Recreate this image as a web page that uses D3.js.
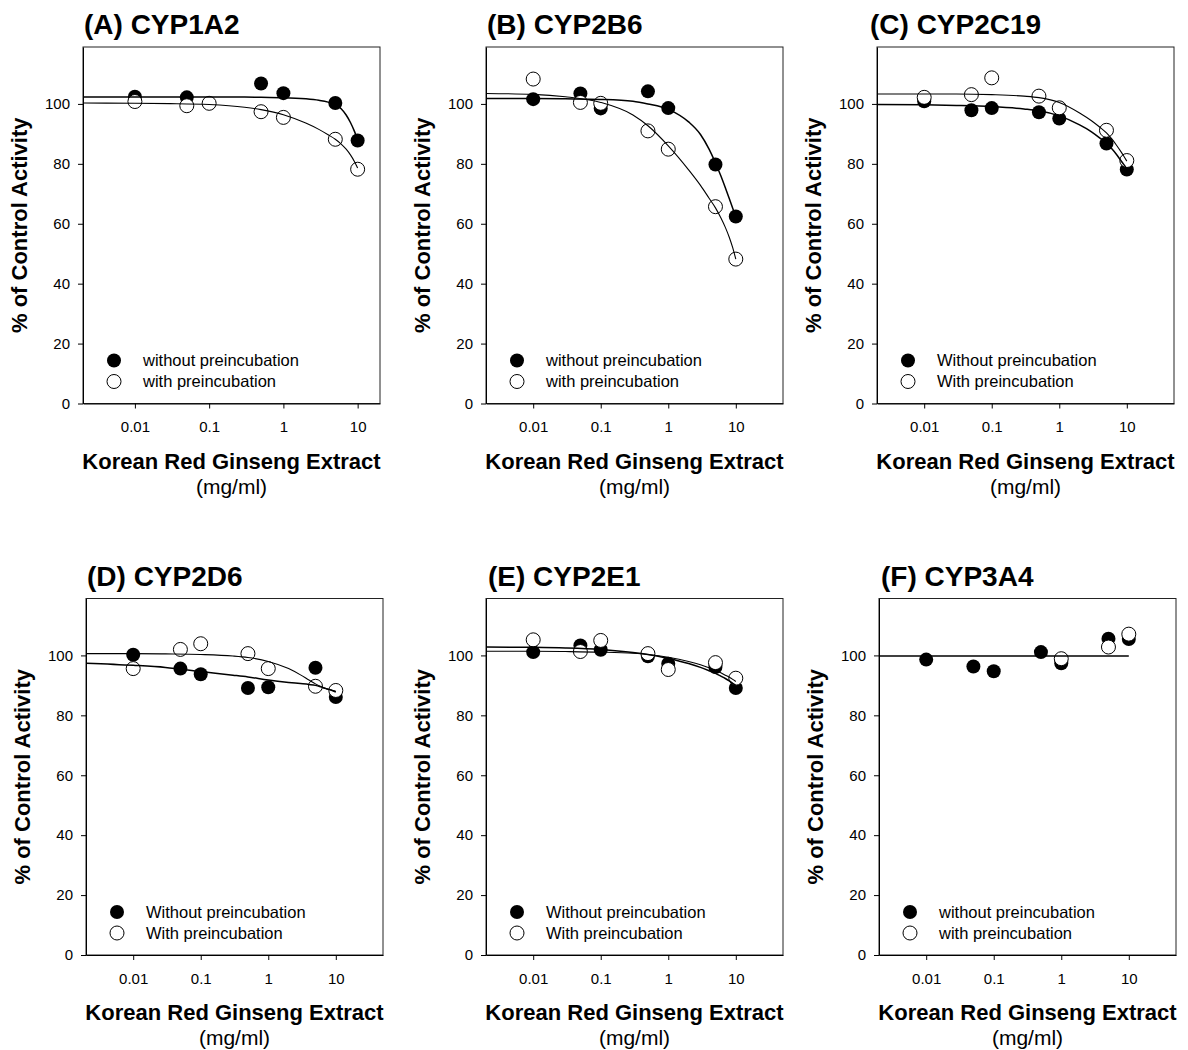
<!DOCTYPE html>
<html lang="en">
<head>
  <meta charset="UTF-8">
  <title>Korean Red Ginseng Extract - CYP inhibition</title>
  <script src="https://d3js.org/d3.v7.min.js"></script>
  <style type="text/css">
    body { margin: 0; background: #fff; }
    .axis path,
    .axis line {
      fill: none;
      stroke: black;
    }
    .axis text {
      font-family: Arial, "Liberation Sans", sans-serif;
      font-size: 15px;
      fill: #000;
    }
  </style>
</head>
<body>
<script type="text/javascript">
  // Width and height of the whole figure
  var w = 1188;
  var h = 1050;

  // Data
  var concentrations = [0.01, 0.05, 0.1, 0.5, 1, 5, 10];
  var fitConc = [0.002, 0.01, 0.03, 0.1, 0.3, 0.5, 1, 2, 3, 4, 5, 6, 7, 8, 9, 10];
  var panelTitles = ["(A) CYP1A2", "(B) CYP2B6", "(C) CYP2C19", "(D) CYP2D6", "(E) CYP2E1", "(F) CYP3A4"];
  var legendWithout = ["without preincubation", "without preincubation", "Without preincubation",
                       "Without preincubation", "Without preincubation", "without preincubation"];
  var legendWith = ["with preincubation", "with preincubation", "With preincubation",
                    "With preincubation", "With preincubation", "with preincubation"];
  var xMaxByPanel = [20, 50, 50, 50, 50, 50];
  var yTicks = [0, 20, 40, 60, 80, 100];
  var xTicks = [0.01, 0.1, 1, 10];

  // % of control activity, one row per panel (A..F), columns follow concentrations
  var withoutValues = [
    [102.4, 102.2, null, 106.8, 103.6, 100.3, 87.8],
    [101.6, 103.5, 98.5, 104.2, 98.6, 79.8, 62.4],
    [100.9, 97.9, 98.6, 97.2, 95.1, 86.8, 78.1],
    [100.2, 95.6, 93.7, 89.1, 89.4, 95.9, 86.1],
    [101.1, 103.3, 101.9, 99.7, 97.2, 96.1, 89.1],
    [98.6, 96.3, 94.7, 101.1, 97.4, 105.6, 105.5]
  ];
  var withValues = [
    [100.8, 99.4, 100.2, 97.4, 95.5, 88.2, 78.2],
    [108.3, 100.5, 100.2, 91.0, 84.9, 65.7, 48.2],
    [102.2, 103.1, 108.7, 102.6, 98.7, 91.2, 81.1],
    [95.6, 102.0, 103.9, 100.6, 95.6, 89.7, 88.3],
    [105.2, 101.3, 105.0, 100.6, 95.3, 97.6, 92.4],
    [null, null, null, null, 98.9, 102.8, 107.1]
  ];

  // fitted curves at fitConc
  var withoutFit = [
    [102.3, 102.3, 102.3, 102.3, 102.3, 102.2, 102.1, 101.7, 101.2, 100.6, 99.8, 98.4, 96.3, 93.8, 91.0, 88.0],
    [101.8, 101.8, 101.7, 101.5, 100.9, 100.0, 98.2, 94.0, 89.8, 85.0, 80.3, 76.0, 72.0, 68.4, 65.2, 62.3],
    [99.8, 99.7, 99.5, 99.1, 98.3, 97.7, 96.0, 93.0, 90.7, 88.6, 86.8, 85.0, 83.2, 81.4, 79.8, 78.3],
    [97.4, 96.7, 96.0, 94.6, 93.4, 92.8, 91.8, 91.0, 90.6, 90.3, 90.0, 89.5, 89.0, 88.6, 88.2, 87.8],
    [102.8, 102.7, 102.5, 102.0, 101.0, 100.3, 99.0, 97.3, 96.0, 94.9, 94.0, 93.1, 92.3, 91.5, 90.7, 90.0],
    [99.8, 99.8, 99.8, 99.8, 99.8, 99.8, 99.8, 99.8, 99.8, 99.8, 99.8, 99.8, 99.8, 99.8, 99.8, 99.8]
  ];
  var withFit = [
    [100.3, 100.2, 100.1, 99.8, 98.9, 98.1, 96.4, 93.6, 91.5, 89.7, 88.2, 86.6, 84.9, 83.0, 80.9, 78.6],
    [103.5, 103.2, 102.4, 100.5, 96.3, 92.7, 86.0, 78.0, 72.8, 68.6, 65.3, 62.0, 58.8, 55.5, 52.0, 48.2],
    [103.3, 103.3, 103.3, 103.1, 102.6, 102.1, 100.5, 97.0, 94.4, 92.2, 90.3, 88.3, 86.3, 84.4, 82.6, 80.9],
    [100.6, 100.6, 100.5, 100.3, 99.8, 99.3, 98.0, 95.6, 93.5, 91.8, 90.5, 89.6, 89.0, 88.6, 88.3, 88.0],
    [101.4, 101.4, 101.3, 101.1, 100.7, 100.3, 99.4, 98.0, 96.9, 95.9, 95.0, 94.2, 93.4, 92.7, 92.0, 91.3],
    null
  ];

  // panel layout
  var plotW = 297;
  var plotH = 356.5;
  var panelLeft = [83, 486, 877, 86, 486, 879];
  var panelTop = [47, 47, 47, 598.5, 598.5, 598.5];
  var titleDx = [1, 1, -7, 1, 2, 2];
  var markerR = 7;
  var fontFam = "Arial, 'Liberation Sans', sans-serif";

  var svg = d3.select("body")
    .append("svg")
    .attr("width", w)
    .attr("height", h);

  panelTitles.forEach(function(title, i) {
    var g = svg.append("g")
      .attr("transform", "translate(" + panelLeft[i] + "," + panelTop[i] + ")");

    var xScale = d3.scaleLog()
      .domain([0.002, xMaxByPanel[i]])
      .range([0, plotW]);
    var yScale = d3.scaleLinear()
      .domain([0, 119])
      .range([plotH, 0]);

    // frame
    g.append("rect")
      .attr("width", plotW)
      .attr("height", plotH)
      .attr("fill", "none")
      .attr("stroke", "#222")
      .attr("stroke-width", 1);

    var xAxis = d3.axisBottom(xScale)
      .tickValues(xTicks)
      .tickFormat(function(d) { return String(d); })
      .tickSize(5)
      .tickSizeOuter(0)
      .tickPadding(13);
    var yAxis = d3.axisLeft(yScale)
      .tickValues(yTicks)
      .tickSize(5)
      .tickSizeOuter(0)
      .tickPadding(8);

    g.append("g")
      .attr("class", "axis")
      .attr("transform", "translate(0," + plotH + ")")
      .call(xAxis)
      .attr("font-size", 15)
      .attr("font-family", fontFam);
    g.append("g")
      .attr("class", "axis")
      .call(yAxis)
      .attr("font-size", 15)
      .attr("font-family", fontFam);

    // markers: filled (without) first, open (with) on top
    var filled = concentrations.map(function(c, j) { return [c, withoutValues[i][j]]; })
      .filter(function(d) { return d[1] != null; });
    var open = concentrations.map(function(c, j) { return [c, withValues[i][j]]; })
      .filter(function(d) { return d[1] != null; });

    g.selectAll("circle.without")
      .data(filled)
      .enter()
      .append("circle")
      .attr("class", "without")
      .attr("cx", function(d) { return xScale(d[0]); })
      .attr("cy", function(d) { return yScale(d[1]); })
      .attr("r", markerR)
      .attr("fill", "#000");

    g.selectAll("circle.with")
      .data(open)
      .enter()
      .append("circle")
      .attr("class", "with")
      .attr("cx", function(d) { return xScale(d[0]); })
      .attr("cy", function(d) { return yScale(d[1]); })
      .attr("r", markerR)
      .attr("fill", "#fff")
      .attr("stroke", "#000")
      .attr("stroke-width", 1);

    // fitted curves drawn over the markers
    var line = d3.line()
      .x(function(d) { return xScale(d[0]); })
      .y(function(d) { return yScale(d[1]); })
      .curve(d3.curveMonotoneX);

    g.append("path")
      .datum(fitConc.map(function(c, j) { return [c, withoutFit[i][j]]; }))
      .attr("d", line)
      .attr("fill", "none")
      .attr("stroke", "#000")
      .attr("stroke-width", 1.5);

    if (withFit[i]) {
      g.append("path")
        .datum(fitConc.map(function(c, j) { return [c, withFit[i][j]]; }))
        .attr("d", line)
        .attr("fill", "none")
        .attr("stroke", "#000")
        .attr("stroke-width", 1.1);
    }

    // legend
    var legY = [plotH - 43, plotH - 22];
    g.append("circle")
      .attr("cx", 31).attr("cy", legY[0]).attr("r", markerR)
      .attr("fill", "#000");
    g.append("circle")
      .attr("cx", 31).attr("cy", legY[1]).attr("r", markerR)
      .attr("fill", "#fff").attr("stroke", "#000");
    g.append("text")
      .attr("x", 60).attr("y", legY[0] + 5.5)
      .attr("font-family", fontFam).attr("font-size", "16.5px")
      .text(legendWithout[i]);
    g.append("text")
      .attr("x", 60).attr("y", legY[1] + 5.5)
      .attr("font-family", fontFam).attr("font-size", "16.5px")
      .text(legendWith[i]);

    // panel title
    g.append("text")
      .attr("x", titleDx[i])
      .attr("y", -13)
      .attr("font-family", fontFam)
      .attr("font-size", "28px")
      .attr("font-weight", "bold")
      .text(title);

    // y axis title
    g.append("text")
      .attr("transform", "translate(-56," + (plotH / 2) + ") rotate(-90)")
      .attr("text-anchor", "middle")
      .attr("font-family", fontFam)
      .attr("font-size", "22px")
      .attr("font-weight", "bold")
      .text("% of Control Activity");

    // x axis title
    g.append("text")
      .attr("x", plotW / 2)
      .attr("y", plotH + 65)
      .attr("text-anchor", "middle")
      .attr("font-family", fontFam)
      .attr("font-size", "22px")
      .attr("font-weight", "bold")
      .text("Korean Red Ginseng Extract");
    g.append("text")
      .attr("x", plotW / 2)
      .attr("y", plotH + 90)
      .attr("text-anchor", "middle")
      .attr("font-family", fontFam)
      .attr("font-size", "21px")
      .text("(mg/ml)");
  });
</script>
</body>
</html>
